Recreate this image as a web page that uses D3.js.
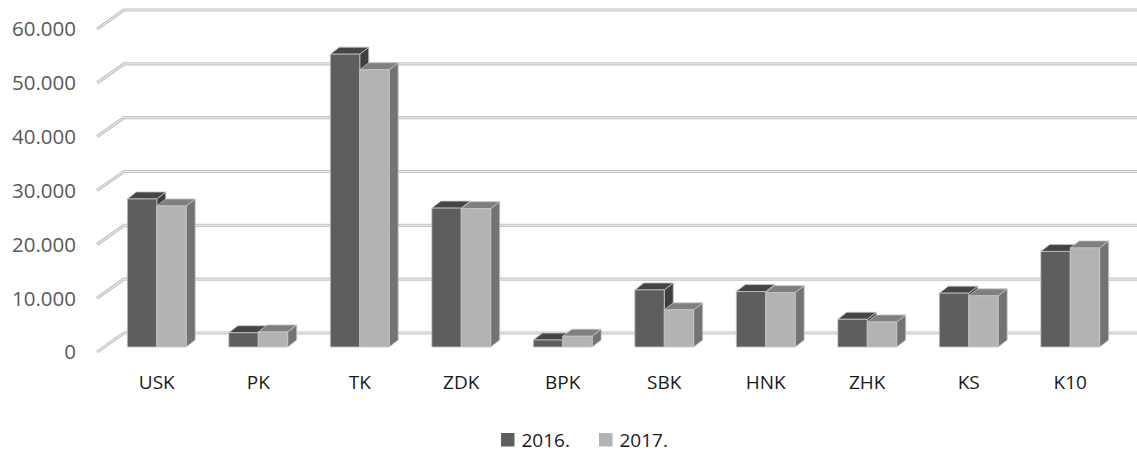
<!DOCTYPE html>
<html>
<head>
<meta charset="utf-8">
<script src="https://cdn.jsdelivr.net/npm/d3@7"></script>
<style>
	body { margin: 0; background: #fff; }
	svg { display: block; font-family: "Open Sans", sans-serif; }
</style>
</head>
<body>
<svg id="chart" width="1137" height="452"></svg>
<script>
var categories = ["USK", "PK", "TK", "ZDK", "BPK", "SBK", "HNK", "ZHK", "KS", "K10"];
var seriesNames = ["2016.", "2017."];
var values2016 = [27500, 2650, 54400, 25800, 1300, 10600, 10300, 5150, 10000, 17750];
var values2017 = [26200, 2800, 51500, 25700, 2000, 6900, 10100, 4650, 9500, 18400];
var yTicks = [0, 10000, 20000, 30000, 40000, 50000, 60000];

var colors = {
	"2016.": { front: "#5e5e5e", top: "#454545", side: "#3f3f3f" },
	"2017.": { front: "#b3b3b3", top: "#808080", side: "#737373" }
};

var svg = d3.select("#chart");

// depth of the wall (grid) and of the bars
var wallDx = 27, wallDy = -19;
var barDx = 9, barDy = -7;

var yBack = d3.scaleLinear().domain([0, 60000]).range([333, 10]);
var yFront = d3.scaleLinear().domain([0, 60000]).range([347, 24]);

var x = d3.scaleBand()
	.domain(categories)
	.range([106, 1121])
	.paddingInner(0.42)
	.paddingOuter(0.21);

var xSub = d3.scaleBand()
	.domain(seriesNames)
	.range([0, x.bandwidth()]);

var fmt = function(v) { return d3.format(",")(v).replace(/,/g, "."); };

// gridlines (side wall diagonal + back wall)
var grid = svg.append("g");
yTicks.forEach(function(t) {
	var yb = yBack(t);
	var d = "M97," + (yb - wallDy) + "L" + (97 + wallDx) + "," + yb + "L1137," + yb;
	grid.append("path").attr("d", d).attr("fill", "none")
		.attr("stroke", "#c4c4c4").attr("stroke-width", 3.2);
	grid.append("path").attr("d", d).attr("fill", "none")
		.attr("stroke", "#eeeeee").attr("stroke-width", 1);
});

// y labels
svg.append("g").selectAll("text")
	.data(yTicks)
	.enter().append("text")
	.attr("x", 76)
	.attr("y", d => yBack(d) - wallDy)
	.attr("dy", "0.36em")
	.attr("text-anchor", "end")
	.attr("fill", "#595959")
	.style("font-size", "20.5px")
	.text(fmt);

// bars
var series = [
	{ name: "2016.", values: values2016 },
	{ name: "2017.", values: values2017 }
];

var bars = svg.append("g");
categories.forEach(function(c, i) {
	series.forEach(function(s) {
		var x0 = x(c) + xSub(s.name), w = xSub.bandwidth();
		var y0 = yFront(0), y1 = yFront(s.values[i]);
		var col = colors[s.name];
		var g = bars.append("g")
			.attr("stroke", "#c6c6c6")
			.attr("stroke-width", 0.8)
			.attr("stroke-linejoin", "round");
		// side
		g.append("path")
			.attr("d", "M" + (x0 + w) + "," + y0 + "L" + (x0 + w + barDx) + "," + (y0 + barDy) +
				"L" + (x0 + w + barDx) + "," + (y1 + barDy) + "L" + (x0 + w) + "," + y1 + "Z")
			.attr("fill", col.side);
		// top
		g.append("path")
			.attr("d", "M" + x0 + "," + y1 + "L" + (x0 + barDx) + "," + (y1 + barDy) +
				"L" + (x0 + w + barDx) + "," + (y1 + barDy) + "L" + (x0 + w) + "," + y1 + "Z")
			.attr("fill", col.top);
		// front
		g.append("rect")
			.attr("x", x0).attr("y", y1)
			.attr("width", w).attr("height", y0 - y1)
			.attr("fill", col.front);
	});
});

// x labels
svg.append("g").selectAll("text")
	.data(categories)
	.enter().append("text")
	.attr("x", d => x(d) + x.bandwidth() / 2)
	.attr("y", 389)
	.attr("text-anchor", "middle")
	.attr("fill", "#1a1a1a")
	.style("font-size", "19px")
	.text(d => d);

// legend
var legendX = [501, 599];
var legend = svg.append("g").selectAll("g")
	.data(seriesNames)
	.enter().append("g")
	.attr("transform", (d, i) => "translate(" + legendX[i] + ",433)");
legend.append("rect")
	.attr("width", 13.5).attr("height", 13.5)
	.attr("fill", d => colors[d].front);
legend.append("text")
	.attr("x", 20.5).attr("y", 13.5)
	.attr("fill", "#1a1a1a")
	.style("font-size", "19px")
	.text(d => d);
</script>
</body>
</html>
